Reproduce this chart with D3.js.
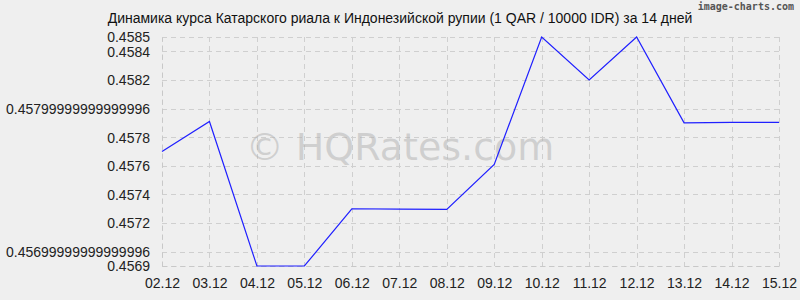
<!DOCTYPE html>
<html><head><meta charset="utf-8">
<script src="https://cdn.jsdelivr.net/npm/d3@7"></script>
<style>body{margin:0;background:#efefef}svg{display:block}</style>
</head><body>
<script>
const categories = ["02.12","03.12","04.12","05.12","06.12","07.12","08.12","09.12","10.12","11.12","12.12","13.12","14.12","15.12"];
const values = [0.45770,0.45791,0.4569,0.4569,0.45730,0.457297,0.457295,0.45761,0.4585,0.4582,0.4585,0.45790,0.457903,0.457903];
const yTicks = [0.4585,0.4584,0.4582,0.45799999999999996,0.4578,0.4576,0.4574,0.4572,0.45699999999999996,0.4569];
const title = "Динамика курса Катарского риала к Индонезийской рупии (1 QAR / 10000 IDR) за 14 дней";

const W=800,H=300;
const svg=d3.select("body").append("svg").attr("width",W).attr("height",H);
svg.append("rect").attr("width",W).attr("height",H).attr("fill","#efefef");
const x=d3.scalePoint().domain(categories).range([162,779]);
const y=d3.scaleLinear().domain([0.4569,0.4585]).range([266,37]);
const font="Liberation Sans, Arial, sans-serif";

// grid
const g=svg.append("g");
g.selectAll(".hg").data(yTicks).join("line")
 .attr("x1",162).attr("x2",779).attr("y1",d=>Math.round(y(d))+0.5).attr("y2",d=>Math.round(y(d))+0.5)
 .attr("stroke","#cfcfcf").attr("stroke-dasharray","5,4");
g.selectAll(".vg").data(categories).join("line")
 .attr("x1",d=>Math.round(x(d))+0.5).attr("x2",d=>Math.round(x(d))+0.5).attr("y1",37).attr("y2",266)
 .attr("stroke","#cfcfcf").attr("stroke-dasharray","5,4");

// axes
const yAxis=d3.axisLeft(y).tickValues(yTicks).tickFormat(d=>String(d)).tickSize(0).tickPadding(12);
const ya=svg.append("g").attr("transform","translate(162,0)").call(yAxis);
const xAxis=d3.axisBottom(x).tickSize(0).tickPadding(12);
const xa=svg.append("g").attr("transform","translate(0,266)").call(xAxis);
[ya,xa].forEach(a=>{a.select(".domain").attr("stroke","#c8c8c8").attr("stroke-dasharray","5,4");
 a.selectAll("text").attr("font-family",font).attr("font-size",14).attr("fill","#222");});
ya.selectAll("text").attr("dy","0.35em");
xa.selectAll("text").attr("dy","0.71em");

// watermark
svg.append("text").attr("x",400).attr("y",160).attr("text-anchor","middle")
 .attr("font-family","DejaVu Sans, sans-serif").attr("font-size",38)
 .attr("fill","#b0b0b0").attr("fill-opacity",0.5).text("© HQRates.com");

// line
svg.append("path").datum(values.map((v,i)=>[categories[i],v]))
 .attr("fill","none").attr("stroke","#1f1fff").attr("stroke-width",1.2)
 .attr("d",d3.line().x(d=>x(d[0])).y(d=>y(d[1])));

// title
svg.append("text").attr("x",400).attr("y",23).attr("text-anchor","middle")
 .attr("font-family",font).attr("font-size",14).attr("fill","#111").text(title);
svg.append("text").attr("x",794).attr("y",10).attr("text-anchor","end")
 .attr("font-family","DejaVu Sans Mono, monospace").attr("font-size",10).attr("font-weight","bold").attr("fill","#555").text("image-charts.com");
</script>
</body></html>
